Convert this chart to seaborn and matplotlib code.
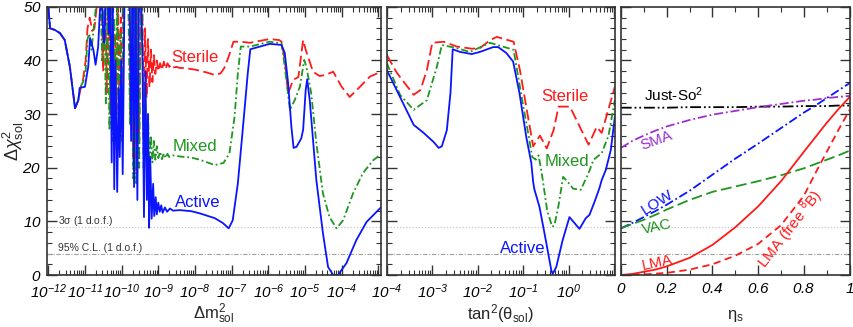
import numpy as np
import pandas as pd
import seaborn as sns
import matplotlib
matplotlib.use("Agg")
import matplotlib.pyplot as plt
from matplotlib.ticker import FuncFormatter, LogLocator, MultipleLocator, NullFormatter, FixedLocator

# ---- left panel: chi2 vs log10(dm2) ----
act_dm_x = [-12.0, -11.95, -11.82, -11.68, -11.55, -11.41, -11.27, -11.18, -11.14, -11.0, -10.91, -10.86,
            -10.77, -10.71, -10.64, -10.59, -10.55, -10.50, -10.47, -10.43, -10.38, -10.35, -10.31, -10.27,
            -10.24, -10.20, -10.17, -10.12, -10.08, -10.05, -10.01, -9.97, -9.92, -9.85, -9.78, -9.74, -9.70,
            -9.66, -9.62, -9.57, -9.53, -9.47, -9.43, -9.39, -9.35, -9.31, -9.28, -9.25, -9.22, -9.18, -9.14,
            -9.11, -9.07, -9.04, -9.0, -8.96, -8.92, -8.88, -8.82, -8.76, -8.68, -8.6, -8.41, -8.1, -7.87,
            -7.46, -7.24, -7.08, -6.97, -6.83, -6.69, -6.56, -6.49, -5.96, -5.64, -5.55, -5.46, -5.37, -5.31,
            -5.23, -5.10, -5.05, -4.98, -4.94, -4.87, -4.69, -4.51, -4.37, -4.23, -4.10, -3.87, -3.60, -3.32,
            -2.93]
act_dm_y = [50, 46, 45.7, 45.1, 43.8, 38.8, 31.1, 32.6, 34.9, 35.1, 38.8, 44.2,
            42, 39.2, 42.5, 49.4, 53, 45, 43.3, 53, 53, 45, 53, 21,
            50, 16, 40, 15.5, 35, 22, 40, 18.8, 53, 53, 53, 25, 53,
            16.4, 53, 14, 53, 53, 40, 10.8, 38, 14, 30, 8.8, 22, 10.5, 17,
            11, 14.5, 11.3, 13.5, 11.8, 13, 11.6, 12.6, 11.8, 12.4, 12, 12.1, 11.9, 11.5,
            10.6, 9.7, 8.7, 10.2, 17.1, 27.6, 37.6, 42.1, 43.1, 42.9, 41.4, 35.8, 27.6, 23.7,
            23.9, 25.5, 27.1, 34.5, 36.5, 32.6, 17.7, 7.8, 1.5, 0, 0, 2.2, 6.5, 9.9,
            12.6]

mix_dm_x = [-12.0, -11.95, -11.82, -11.68, -11.55, -11.41, -11.27, -11.18, -11.14, -11.05, -10.98, -10.93,
            -10.88, -10.82, -10.76, -10.70, -10.65, -10.58, -10.53, -10.48, -10.43, -10.38, -10.33, -10.29,
            -10.25, -10.20, -10.16, -10.12, -10.08, -10.03, -9.99, -9.95, -9.88, -9.82, -9.77, -9.72, -9.68,
            -9.64, -9.60, -9.56, -9.52, -9.48, -9.44, -9.40, -9.36, -9.32, -9.28, -9.24, -9.20, -9.16, -9.12,
            -9.08, -9.04, -9.0, -8.95, -8.9, -8.85, -8.8, -8.75, -8.7, -8.6, -8.41, -8.1, -7.87, -7.46, -7.22,
            -7.06, -6.92, -6.83, -6.75, -6.5, -5.96, -5.64, -5.55, -5.41, -5.28, -5.14, -5.02, -4.96, -4.83,
            -4.69, -4.51, -4.33, -4.14, -3.96, -3.69, -3.42, -3.14, -2.93]
mix_dm_y = [50, 46, 45.7, 45.1, 43.8, 38.8, 31.1, 32.6, 34.9, 36, 38, 44,
            45, 42, 46, 50, 53, 53, 40, 53, 32, 53, 27, 50,
            25, 48, 26, 53, 30, 45, 25, 53, 53, 53, 28, 53, 18,
            53, 16.8, 53, 20, 53, 53, 20, 35, 22, 30, 20.5, 26, 21, 25,
            21.5, 24, 21.8, 23, 21.6, 22.7, 21.8, 22.6, 22.0, 22.3, 22.1, 21.9, 21.5, 20.5, 20.9,
            22.7, 29.5, 37.6, 42.6, 42.6, 43.5, 43.2, 38.8, 30.8, 32.6, 35.1, 40.1, 38.8, 33.9,
            24.6, 15.2, 10.8, 8.7, 10.2, 15.2, 19, 21.4, 22.5]

ste_dm_x = [-12.0, -11.95, -11.82, -11.68, -11.55, -11.41, -11.27, -11.18, -11.1, -11.05, -10.98, -10.93,
            -10.87, -10.80, -10.74, -10.68, -10.62, -10.55, -10.50, -10.45, -10.40, -10.35, -10.30, -10.26,
            -10.22, -10.18, -10.14, -10.10, -10.06, -10.02, -9.98, -9.94, -9.90, -9.85, -9.80, -9.76, -9.72,
            -9.68, -9.64, -9.60, -9.56, -9.52, -9.48, -9.44, -9.40, -9.36, -9.32, -9.28, -9.24, -9.20, -9.16,
            -9.12, -9.08, -9.04, -9.0, -8.95, -8.9, -8.85, -8.8, -8.75, -8.70, -8.65, -8.6, -8.5, -8.41, -8.3,
            -8.0, -7.7, -7.46, -7.3, -7.2, -7.08, -6.95, -6.75, -6.5, -6.2, -5.96, -5.7, -5.64, -5.55, -5.46,
            -5.32, -5.18, -5.05, -4.98, -4.78, -4.6, -4.45, -4.23, -4.0, -3.78, -3.5, -3.23, -2.93]
ste_dm_y = [50, 46, 45.7, 45.1, 43.8, 38.8, 31.1, 32.6, 35.4, 36.5, 40, 46,
            48, 45.5, 46, 50, 53, 53, 38, 53, 34, 53, 30, 50,
            28.5, 45, 30, 53, 32, 48, 30, 53, 53, 53, 53, 30, 53,
            22, 53, 19.5, 53, 25, 53, 53, 27, 46, 33, 44, 35, 42, 36,
            41, 37.5, 40, 38, 39.5, 38.2, 39.8, 38.4, 39.5, 38.8, 39.2, 38.7, 38.8, 38.6, 38.6,
            38.3, 37.8, 37.3, 37.6, 38.6, 40.7, 43.5, 43.5, 43.3, 43.7, 44, 43.8, 43.5, 40.1, 33.9,
            36.4, 36.9, 43.8, 42, 37.9, 37.1, 37.3, 37.9, 35.1, 33.2, 35.1, 37, 37.9]

# ---- middle panel: chi2 vs log10(tan2 theta) ----
act_th_x = [-4.0, -3.71, -3.41, -3.19, -2.97, -2.86, -2.79, -2.68, -2.60, -2.55, -2.39, -2.13, -1.95, -1.66,
            -1.55, -1.37, -1.22, -1.08, -0.93, -0.82, -0.78, -0.75, -0.64, -0.49, -0.38, -0.35, -0.27, -0.13,
            0.02, 0.13, 0.24, 0.38, 0.46, 0.57, 0.68, 0.73, 0.82, 0.93, 1.02]
act_th_y = [38.2, 33.2, 28, 26.5, 24.8, 23.7, 24, 27, 33.9, 42.1, 41.6, 41.2, 41.6, 42.5,
            42.5, 41.4, 39.8, 33.9, 25.7, 20.9, 17.4, 15.9, 12.7, 6, 0.9, 0.2, 1.5, 6.5,
            10.8, 9.7, 8.6, 10.6, 11.2, 13.6, 16.2, 17.7, 19.6, 23.3, 29.5]

mix_th_x = [-4.0, -3.71, -3.41, -3.12, -2.90, -2.79, -2.46, -2.17, -1.73, -1.21, -1.02, -0.88, -0.80, -0.72,
            -0.66, -0.59, -0.47, -0.36, -0.31, -0.22, -0.12, -0.03, 0.10, 0.27, 0.44, 0.55, 0.73, 0.88, 1.02]
mix_th_y = [39.5, 33.6, 30.8, 32.6, 38.8, 42.9, 42.3, 41.6, 43.3, 42, 32.6, 26, 22, 21.5,
            22.3, 19, 12, 9, 9.3, 13, 18.3, 17.5, 16.1, 15.9, 19, 21.5, 22.7, 26, 32.6]

ste_th_x = [-4.0, -3.78, -3.41, -3.26, -3.12, -3.0, -2.75, -2.46, -2.13, -1.95, -1.73, -1.58, -1.21, -1.07,
            -0.92, -0.83, -0.78, -0.63, -0.48, -0.33, -0.22, 0.03, 0.25, 0.44, 0.62, 0.73, 1.02]
ste_th_y = [41, 37.7, 33.6, 34.5, 38.2, 43.3, 43.5, 42.6, 42.2, 42.3, 43.8, 44.4, 43.5, 38.2,
            30.8, 26.5, 24, 26, 23.6, 27, 31.4, 31.4, 27.6, 24.3, 27.6, 26.5, 35.1]

# ---- right panel: chi2 vs eta_s ----
eta = [0.0, 0.05, 0.1, 0.15, 0.2, 0.3, 0.4, 0.5, 0.6, 0.7, 0.8, 0.85, 0.9, 0.95, 1.0]
justso = [31.2, 31.2, 31.2, 31.2, 31.2, 31.3, 31.3, 31.3, 31.4, 31.4, 31.5, 31.5, 31.5, 31.6, 31.6]
sma = [23.7, 25.0, 26.0, 26.9, 27.7, 28.9, 29.9, 30.6, 31.3, 31.9, 32.5, 32.7, 33.0, 33.2, 33.4]
low = [8.7, 9.7, 10.8, 11.9, 13.1, 15.7, 18.7, 21.7, 24.5, 27.4, 30.3, 31.6, 33.0, 34.4, 35.8]
vac = [8.7, 9.5, 10.3, 11.2, 12.2, 14.0, 15.5, 16.5, 17.5, 18.6, 19.9, 20.7, 21.5, 22.3, 23.2]
lma = [0.0, 0.2, 0.6, 1.0, 1.6, 3.2, 5.6, 8.9, 12.8, 17.5, 23.0, 25.7, 28.4, 30.9, 33.2]
lma_free = [0.0, 0.05, 0.1, 0.25, 0.4, 1.0, 2.0, 3.6, 5.8, 9.3, 14.8, 19.0, 23.0, 27.0, 30.8]

RED = "#ff1a1a"
BLUE = "#0a14ff"
GREEN = "#1f961f"
PURPLE = "#9b30d0"

sns.set_style("ticks")
plt.rcParams["font.family"] = ["Liberation Sans", "DejaVu Sans"]
plt.rcParams["mathtext.fontset"] = "custom"
# rm is italic so that the tick numbers come out slanted; upright text uses \mathsf
plt.rcParams["mathtext.rm"] = "Liberation Sans:italic"
plt.rcParams["mathtext.it"] = "Liberation Sans:italic"
plt.rcParams["mathtext.sf"] = "Liberation Sans"
plt.rcParams["mathtext.bf"] = "Liberation Sans:bold"
plt.rcParams["axes.linewidth"] = 1.2
plt.rcParams["axes.edgecolor"] = "#333333"


def to_frame(series):
    parts = []
    for name, xs, ys in series:
        parts.append(pd.DataFrame({"x": xs, "y": ys, "series": name}))
    return pd.concat(parts, ignore_index=True)


def log_fmt(v, pos, hide=()):
    e = int(round(np.log10(v)))
    if e in hide:
        return ""
    return r"$10^{%d}$" % e


def style_axis(ax):
    ax.set_ylim(0, 50)
    ax.yaxis.set_major_locator(MultipleLocator(10))
    ax.yaxis.set_minor_locator(MultipleLocator(2))
    ax.tick_params(which="both", direction="in", top=True, right=True, labelsize=11, colors="#333333",
                   labelcolor="black")
    ax.tick_params(which="major", length=7, width=1)
    ax.tick_params(which="minor", length=3.5, width=0.8)
    ax.tick_params(axis="x", pad=5)
    ax.tick_params(axis="y", pad=4)
    ax.axhline(9, color="#c8c8c8", lw=0.9, ls=(0, (1, 1.5)), zorder=1)
    ax.axhline(3.84, color="#a0a0a0", lw=0.8, ls=(0, (4, 1.5, 1, 1.5)), zorder=1)


fig = plt.figure(figsize=(8.54, 3.27), dpi=100)
ax1 = fig.add_axes([0.055, 0.159, 0.391, 0.820])
ax2 = fig.add_axes([0.453, 0.159, 0.267, 0.820])
ax3 = fig.add_axes([0.727, 0.159, 0.268, 0.820])

palette = {"Active": BLUE, "Mixed": GREEN, "Sterile": RED}
dashes = {"Active": "", "Mixed": (4, 1.6, 1, 1.6), "Sterile": (6, 2.5)}

# left panel
ax1.set_xscale("log")
df1 = to_frame([("Sterile", 10.0 ** np.array(ste_dm_x), ste_dm_y),
                ("Mixed", 10.0 ** np.array(mix_dm_x), mix_dm_y),
                ("Active", 10.0 ** np.array(act_dm_x), act_dm_y)])
sns.lineplot(data=df1, x="x", y="y", hue="series", style="series", palette=palette, dashes=dashes,
             estimator=None, sort=False, legend=False, lw=1.3, ax=ax1)
ax1.set_xlim(10 ** -12.035, 10 ** -2.93)
ax1.xaxis.set_major_locator(FixedLocator([10.0 ** e for e in range(-12, -2)]))
ax1.xaxis.set_minor_locator(LogLocator(base=10, subs=np.arange(2, 10), numticks=30))
ax1.xaxis.set_major_formatter(FuncFormatter(lambda v, p: log_fmt(v, p, hide=(-3,))))
ax1.xaxis.set_minor_formatter(NullFormatter())
style_axis(ax1)
ax1.yaxis.set_major_formatter(FuncFormatter(lambda v, p: r"$%d$" % v))
ax1.set_xlabel(r"$\mathsf{\Delta m^2_{sol}}$", fontsize=12, labelpad=1)
ax1.set_ylabel(r"$\mathsf{\Delta}\chi^{\mathsf{2}}_{\mathsf{sol}}$", fontsize=13)
ax1.yaxis.set_label_coords(-0.064, 0.5)
ax1.text(10 ** -8.0, 40.5, "Sterile", color=RED, fontsize=12, ha="center", va="center")
ax1.text(10 ** -8.0, 23.9, "Mixed", color=GREEN, fontsize=12, ha="center", va="center")
ax1.text(10 ** -7.92, 13.6, "Active", color=BLUE, fontsize=12, ha="center", va="center")
ax1.text(10 ** -11.74, 10.1, r"3$\mathsf{\sigma}$ (1 d.o.f.)", fontsize=7.5, color="#333333", va="center")
ax1.text(10 ** -11.74, 5.0, "95% C.L. (1 d.o.f.)", fontsize=7.5, color="#333333", va="center")

# middle panel
ax2.set_xscale("log")
df2 = to_frame([("Sterile", 10.0 ** np.array(ste_th_x), ste_th_y),
                ("Mixed", 10.0 ** np.array(mix_th_x), mix_th_y),
                ("Active", 10.0 ** np.array(act_th_x), act_th_y)])
sns.lineplot(data=df2, x="x", y="y", hue="series", style="series", palette=palette, dashes=dashes,
             estimator=None, sort=False, legend=False, lw=1.3, ax=ax2)
ax2.set_xlim(1e-4, 10 ** 1.02)
ax2.xaxis.set_major_locator(FixedLocator([10.0 ** e for e in range(-4, 2)]))
ax2.xaxis.set_minor_locator(LogLocator(base=10, subs=np.arange(2, 10), numticks=30))
ax2.xaxis.set_major_formatter(FuncFormatter(lambda v, p: log_fmt(v, p, hide=(1,))))
ax2.xaxis.set_minor_formatter(NullFormatter())
style_axis(ax2)
ax2.set_yticklabels([])
ax2.set_ylabel("")
ax2.set_xlabel(r"$\mathsf{tan^2(\theta_{sol})}$", fontsize=12, labelpad=1)
ax2.text(10 ** -0.08, 33.2, "Sterile", color=RED, fontsize=12, ha="center", va="center")
ax2.text(10 ** -0.03, 21.1, "Mixed", color=GREEN, fontsize=12, ha="center", va="center")
ax2.text(10 ** -1.0, 5.0, "Active", color=BLUE, fontsize=12, ha="center", va="center")

# right panel
df3 = to_frame([("Just-So2", eta, justso), ("SMA", eta, sma), ("LOW", eta, low), ("VAC", eta, vac),
                ("LMA", eta, lma), ("LMA free", eta, lma_free)])
pal3 = {"Just-So2": "black", "SMA": PURPLE, "LOW": BLUE, "VAC": GREEN, "LMA": RED, "LMA free": RED}
dash3 = {"Just-So2": (6, 1.6, 1, 1.6, 1, 1.6), "SMA": (5, 1.6, 1, 1.6), "LOW": (5, 1.6, 1, 1.6),
         "VAC": (6, 2.5), "LMA": "", "LMA free": (4, 2.5)}
sns.lineplot(data=df3, x="x", y="y", hue="series", style="series", palette=pal3, dashes=dash3,
             estimator=None, legend=False, lw=1.3, ax=ax3)
ax3.set_xlim(0, 1)
ax3.xaxis.set_major_locator(MultipleLocator(0.2))
ax3.xaxis.set_minor_locator(MultipleLocator(0.1))
ax3.xaxis.set_major_formatter(FuncFormatter(lambda v, p: r"$%s$" % ("%g" % round(v, 1))))
style_axis(ax3)
ax3.set_yticklabels([])
ax3.set_ylabel("")
ax3.set_xlabel(r"$\mathsf{\eta_s}$", fontsize=12, labelpad=9)
ax3.text(0.1, 31.9, r"Just-So$^{\mathsf{2}}$", color="black", fontsize=11, ha="left", va="bottom")
ax3.text(0.155, 25.0, "SMA", color=PURPLE, fontsize=11, ha="center", va="center", rotation=20)
ax3.text(0.158, 13.6, "LOW", color=BLUE, fontsize=11, ha="center", va="center", rotation=32)
ax3.text(0.158, 9.0, "VAC", color=GREEN, fontsize=11, ha="center", va="center", rotation=12)
ax3.text(0.158, 2.3, "LMA", color=RED, fontsize=11, ha="center", va="center", rotation=12)
ax3.text(0.74, 8.6, r"LMA (free $^{\mathsf{8}}$B)", color=RED, fontsize=11, ha="center", va="center",
         rotation=52)

fig.savefig("out.png", dpi=100)
